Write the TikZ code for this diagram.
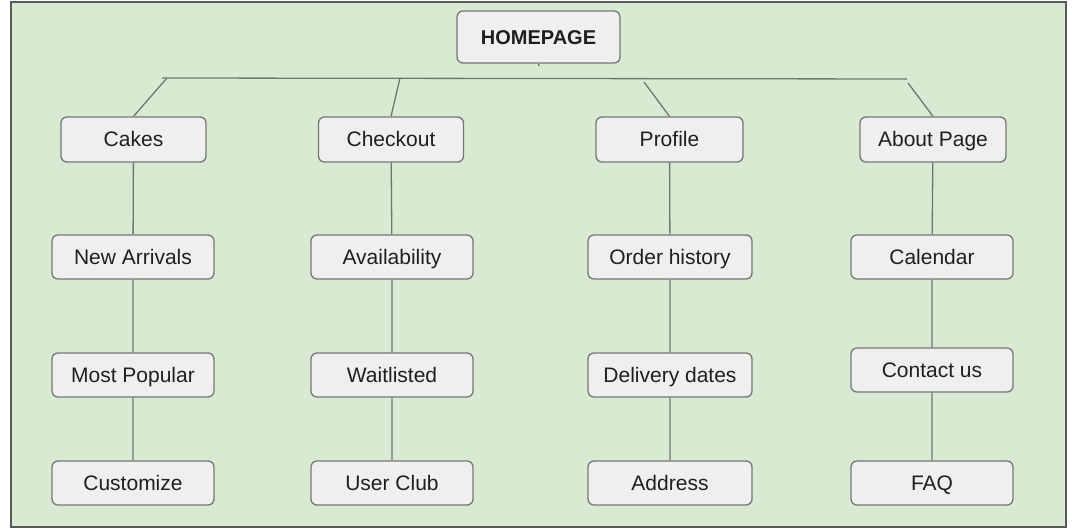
\documentclass[tikz,border=0pt]{standalone}
\usepackage{fontspec}
\setmainfont{Liberation Sans}
\usepackage{xcolor}
\usepackage{tikz}
\definecolor{sitebg}{HTML}{D9EAD3}
\definecolor{boxfill}{HTML}{EFEFEF}
\definecolor{boxline}{HTML}{767676}
\definecolor{linkline}{HTML}{6E786B}
\tikzset{
  page/.style={rectangle, rounded corners=6pt, draw=boxline, line width=1.3pt,
    fill=boxfill, minimum width=162pt, minimum height=44pt, inner sep=0pt,
    text height=15pt, text depth=0pt,
    text=black!88, font=\fontsize{21}{25}\selectfont},
  toppage/.style={page, minimum width=145pt, minimum height=45pt},
  link/.style={draw=linkline, line width=1.3pt}
}

\begin{document}
\begin{tikzpicture}[x=1pt, y=-1pt]
\useasboundingbox (0,0) rectangle (1072,529);
% green frame
\draw[fill=sitebg, draw=black!65, line width=2.5pt] (11,2) rectangle (1066,527);

\begin{scope}[every node/.style={page}]
    \node[minimum width=163pt, minimum height=52pt, text height=14.3pt,
      font=\bfseries\fontsize{20}{24}\selectfont] (home) at (538.5,37) {HOMEPAGE};

    \node[toppage] (cakes) at (133.5,139.5) {Cakes};
    \node[toppage] (checkout) at (391,139.5) {Checkout};
    \node[toppage, minimum width=147pt] (profile) at (669.5,139.5) {Profile};
    \node[toppage, minimum width=146pt] (about) at (933,139.5) {About Page};

    \node (arrivals) at (133,257) {New Arrivals};
    \node (popular) at (133,375) {Most Popular};
    \node (customize) at (133,483) {Customize};

    \node (avail) at (392,257) {Availability};
    \node (waitlist) at (392,375) {Waitlisted};
    \node (club) at (392,483) {User Club};

    \node[minimum width=164pt] (orders) at (670,257) {Order history};
    \node[minimum width=164pt] (delivery) at (670,375) {Delivery dates};
    \node[minimum width=164pt] (address) at (670,483) {Address};

    \node (calendar) at (932,257) {Calendar};
    \node (contact) at (932,370) {Contact us};
    \node (faq) at (932,483) {FAQ};
\end{scope}

% bar under the homepage and its forks
\coordinate (hometick) at (539,66);
\coordinate (barL) at (162,78);
\coordinate (barR) at (907,79);
\coordinate (forkcakes) at (167,78);
\coordinate (forkcheckout) at (400,78);
\coordinate (forkprofile) at (644,82);
\coordinate (forkabout) at (908,83);

\draw[link] (home.south) -- (hometick);
\draw[link] (barL) -- (barR);
\draw[link] (forkcakes) -- (cakes.north);
\draw[link] (forkcheckout) -- (checkout.north);
\draw[link] (forkprofile) -- (profile.north);
\draw[link] (forkabout) -- (about.north);

\draw[link] (cakes)--(arrivals)--(popular)--(customize);
\draw[link] (checkout)--(avail)--(waitlist)--(club);
\draw[link] (profile)--(orders)--(delivery)--(address);
\draw[link] (about)--(calendar)--(contact)--(faq);
\end{tikzpicture}
\end{document}
